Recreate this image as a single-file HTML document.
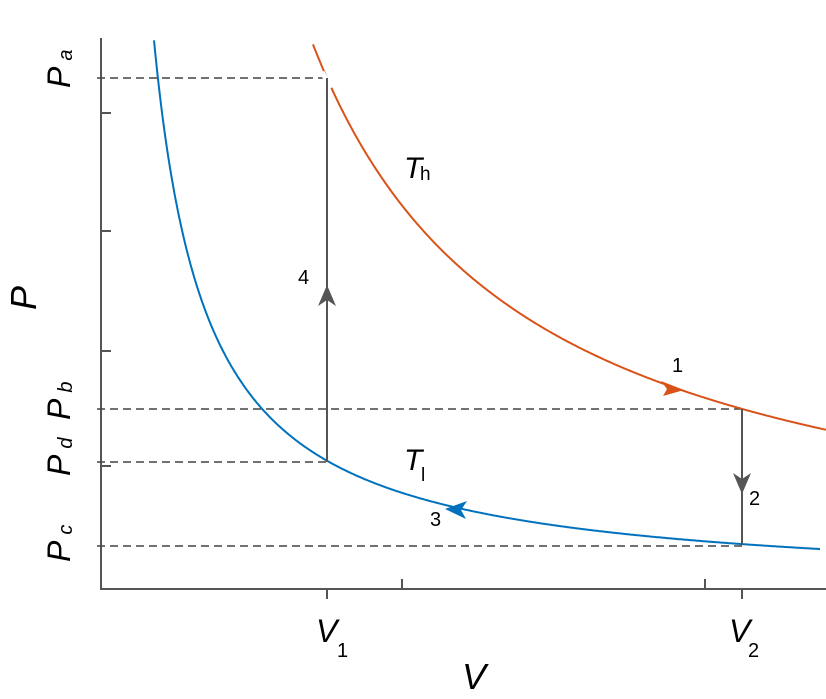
<!DOCTYPE html><html><head><style>body{margin:0;background:#fff}svg{display:block}text{font-family:"Liberation Sans","DejaVu Sans",sans-serif;fill:#000}</style></head><body>
<svg width="826" height="699" viewBox="0 0 826 699" xmlns="http://www.w3.org/2000/svg">
<g stroke="#555" stroke-width="2" fill="none">
<line x1="101" y1="38" x2="101" y2="590"/><line x1="100" y1="589" x2="826" y2="589"/>
<line x1="101" y1="113" x2="111" y2="113"/><line x1="101" y1="231" x2="111" y2="231"/><line x1="101" y1="351" x2="111" y2="351"/><line x1="101" y1="466" x2="111" y2="466"/>
<line x1="402" y1="589" x2="402" y2="579"/><line x1="705" y1="589" x2="705" y2="579"/>
<line x1="327" y1="589" x2="327" y2="599"/><line x1="742" y1="589" x2="742" y2="599"/>
</g>
<g stroke="#444" stroke-width="1.6" stroke-dasharray="8,5" fill="none">
<line x1="97" y1="78" x2="327" y2="78"/><line x1="97" y1="409" x2="742" y2="409"/><line x1="97" y1="462" x2="327" y2="462"/><line x1="97" y1="546" x2="742" y2="546"/>
</g>
<path id="red" fill="none" stroke="#d95319" stroke-width="2"/>
<path id="blue" fill="none" stroke="#0072bd" stroke-width="2"/>
<line x1="322" y1="72" x2="331" y2="88" stroke="#fff" stroke-width="5"/>
<g stroke="#555" stroke-width="2">
<line x1="327" y1="78" x2="327" y2="462"/><line x1="742" y1="409" x2="742" y2="545"/>
</g>
<polygon points="327,285 318,306 327,300 336,306" fill="#555"/>
<polygon points="742,494 733,473 742,479 751,473" fill="#555"/>
<polygon points="684,390 661,381 667,389 663,396" fill="#d95319"/>
<polygon points="445,509 467,501 461,510 466,519" fill="#0072bd"/>
<text x="404" y="178" font-size="30" font-style="italic">T</text><text x="420" y="180" font-size="19">h</text>
<text x="404" y="470" font-size="30" font-style="italic">T</text><text x="421" y="481" font-size="19">l</text>
<text x="298" y="284" font-size="20">4</text><text x="672" y="372" font-size="20">1</text><text x="749" y="505" font-size="20">2</text><text x="430" y="526" font-size="20">3</text>
<text x="316" y="642" font-size="32" font-style="italic">V</text><text x="337" y="657" font-size="20">1</text>
<text x="729" y="642" font-size="32" font-style="italic">V</text><text x="748" y="657" font-size="20">2</text>
<text x="462" y="689" font-size="36" font-style="italic">V</text>
<g font-style="italic" font-size="32">
<text transform="translate(36,310) rotate(-90)" font-size="36">P</text>
<text transform="translate(70,88) rotate(-90)">P<tspan font-size="20" dy="2" dx="6">a</tspan></text>
<text transform="translate(70,420) rotate(-90)">P<tspan font-size="20" dy="2" dx="6">b</tspan></text>
<text transform="translate(70,476) rotate(-90)">P<tspan font-size="20" dy="2" dx="6">d</tspan></text>
<text transform="translate(70,562) rotate(-90)">P<tspan font-size="20" dy="2" dx="6">c</tspan></text>
</g>
<script>
function hp(k,x1,x2,y0){var d="";for(var x=x1;x<=x2;x+=1){var y=y0-k/(x-101);d+=(x==x1?"M":"L")+x+","+y.toFixed(1);}return d;}
document.getElementById("red").setAttribute("d",hp(115450,313,826,589));
document.getElementById("blue").setAttribute("d",hp(29100,154,820,589.5));
</script>
</svg></body></html>
